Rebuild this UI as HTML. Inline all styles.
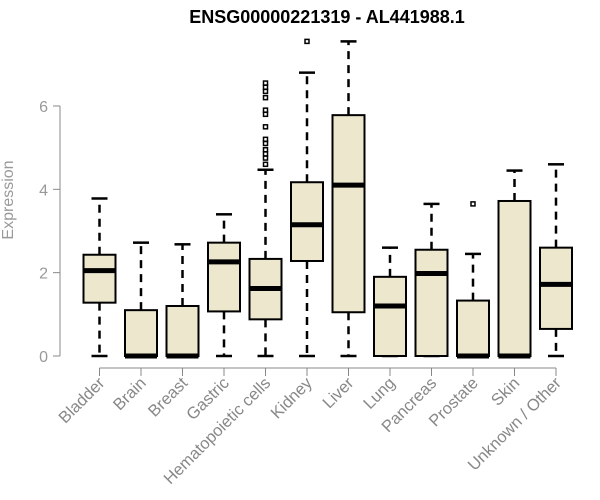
<!DOCTYPE html>
<html><head><meta charset="utf-8"><style>
body{margin:0;background:#fff;}
svg{display:block;font-family:"Liberation Sans",sans-serif;}
</style></head><body>
<svg id="chart" width="600" height="500">
<text x="327" y="23" text-anchor="middle" font-weight="bold" font-size="18">ENSG00000221319 - AL441988.1</text>
<text transform="translate(13,200) rotate(-90)" text-anchor="middle" font-size="16" fill="#999">Expression</text>
<g id="plot"></g>
</svg>
<script>
const categories=["Bladder","Brain","Breast","Gastric","Hematopoietic cells","Kidney","Liver","Lung","Pancreas","Prostate","Skin","Unknown / Other"];
const lows=[0,0,0,0,0,0,0,0,0,0,0,0];
const q1s=[1.28,0,0,1.07,0.88,2.28,1.05,0,0,0,0,0.65];
const medians=[2.05,0,0,2.26,1.62,3.15,4.1,1.2,1.98,0,0,1.72];
const q3s=[2.43,1.1,1.2,2.72,2.33,4.17,5.78,1.9,2.55,1.33,3.72,2.6];
const highs=[3.78,2.72,2.68,3.4,4.47,6.8,7.55,2.6,3.65,2.45,4.45,4.6];
const outliers=[[],[],[],[],[6.55,6.45,6.35,6.2,5.9,5.8,5.5,5.2,5.1,4.95,4.85,4.75,4.6],[7.55],[],[],[],[3.65],[],[]];
const yTicks=[0,2,4,6];
const NS="http://www.w3.org/2000/svg";
const g=document.getElementById('plot');
const y=v=>356-41.67*v;
const x=i=>99.5+41.5*i;
function mk(t,a){const e=document.createElementNS(NS,t);for(const k in a)e.setAttribute(k,a[k]);g.appendChild(e);return e;}
let e=mk('line',{x1:60,x2:60,y1:y(6),y2:y(0),stroke:'#888'});


yTicks.forEach(t=>{
 let l=mk('line',{x1:53,x2:60,y1:y(t),y2:y(t),stroke:'#888'});
 
 
 let tx=mk('text',{x:48,y:y(t)+6,'text-anchor':'end','font-size':16,fill:'#999'});
 tx.textContent=t;
 
 
});
e=mk('line',{x1:x(0),x2:x(categories.length-1),y1:368,y2:368,stroke:'#888'});


categories.forEach((c,i)=>{
 const cx=x(i),w=16;
 let t=mk('line',{x1:cx,x2:cx,y1:368,y2:376,stroke:'#888'});
 
 
 let lb=mk('text',{transform:`translate(${cx+6},384) rotate(-45)`,'text-anchor':'end','font-size':16.5,fill:'#888'});
 lb.textContent=c;
 
 
 let w1=mk('line',{x1:cx,x2:cx,y1:y(q3s[i]),y2:y(highs[i]),stroke:'#000','stroke-width':2.5,'stroke-dasharray':'8,6'});
 
 
 let w2=mk('line',{x1:cx,x2:cx,y1:y(q1s[i]),y2:y(lows[i]),stroke:'#000','stroke-width':2.5,'stroke-dasharray':'8,6'});
 
 
 let c1=mk('line',{x1:cx-8,x2:cx+8,y1:y(highs[i]),y2:y(highs[i]),stroke:'#000','stroke-width':2.5});
 
 
 let c2=mk('line',{x1:cx-8,x2:cx+8,y1:y(lows[i]),y2:y(lows[i]),stroke:'#000','stroke-width':2.5});
 
 
 let b=mk('rect',{x:cx-w,y:y(q3s[i]),width:2*w,height:Math.max(0,y(q1s[i])-y(q3s[i])),fill:'#ede7cd',stroke:'#000','stroke-width':2});
 
 
 let m=mk('line',{x1:cx-w,x2:cx+w,y1:y(medians[i]),y2:y(medians[i]),stroke:'#000','stroke-width':5});
 
 
 outliers[i].forEach(o=>{
  let p=mk('rect',{x:cx-2,y:y(o)-2,width:4,height:4,fill:'none',stroke:'#000','stroke-width':1.5});
  
  
 });
});
</script>
</body></html>
